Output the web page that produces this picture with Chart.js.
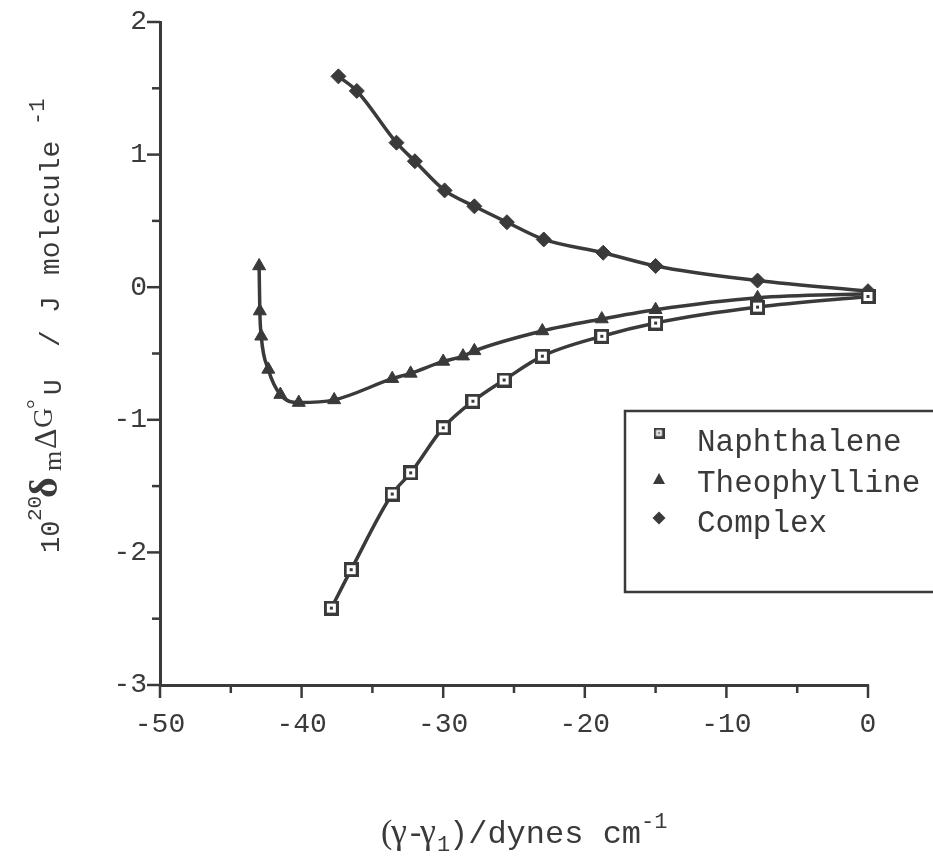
<!DOCTYPE html>
<html>
<head>
<meta charset="utf-8">
<script src="https://cdn.jsdelivr.net/npm/chart.js@4.4.1/dist/chart.umd.min.js"></script>
<style>
  html, body { margin: 0; padding: 0; background: #fff; }
  #wrap { width: 933px; height: 857px; }
</style>
</head>
<body>
<div id="wrap"><canvas id="c" width="933" height="857"></canvas></div>
<script>
// Tick labels
const xTickValues = [-50, -40, -30, -20, -10, 0];
const yTickValues = [-3, -2, -1, 0, 1, 2];

// Naphthalene
const naphX = [-37.9, -36.5, -33.6, -32.3, -30.0, -27.9, -25.7, -23.0, -18.8, -15.0, -7.8, 0.0];
const naphY = [-2.42, -2.13, -1.56, -1.40, -1.06, -0.86, -0.70, -0.52, -0.37, -0.27, -0.15, -0.07];

// Theophylline
const theoX = [-43.0, -42.95, -42.85, -42.35, -41.5, -40.2, -37.7, -33.6, -32.3, -30.0, -28.6, -27.8, -23.0, -18.8, -15.0, -7.8, 0.0];
const theoY = [0.16, -0.18, -0.37, -0.62, -0.81, -0.87, -0.85, -0.69, -0.65, -0.56, -0.52, -0.48, -0.33, -0.24, -0.17, -0.08, -0.05];

// Complex
const cplxX = [-37.4, -36.1, -33.3, -32.0, -29.9, -27.8, -25.5, -22.9, -18.7, -15.0, -7.8, 0.0];
const cplxY = [1.59, 1.48, 1.09, 0.95, 0.73, 0.61, 0.49, 0.36, 0.26, 0.16, 0.05, -0.03];

const seriesNames = ['Naphthalene', 'Theophylline', 'Complex'];

const INK = '#3a3a3a';
const MONO = '"Liberation Mono", "DejaVu Sans Mono", monospace';
const SERIF = '"Liberation Serif", "DejaVu Serif", serif';

// Open square marker with a dot in the middle
function squareMarker(size, lw, dot) {
  const c = document.createElement('canvas');
  c.width = size; c.height = size;
  const g = c.getContext('2d');
  g.fillStyle = '#fff';
  g.fillRect(0, 0, size, size);
  g.strokeStyle = INK;
  g.lineWidth = lw;
  g.strokeRect(lw / 2, lw / 2, size - lw, size - lw);
  g.fillStyle = INK;
  g.fillRect((size - dot) / 2, (size - dot) / 2, dot, dot);
  return c;
}
const sqMark = squareMarker(15, 3, 3);
const sqMarkSmall = squareMarker(11, 2.5, 2);

const toPts = (xs, ys) => xs.map((x, i) => ({ x: x, y: ys[i] }));

const common = {
  showLine: true,
  borderColor: INK,
  borderWidth: 3.5,
  backgroundColor: INK,
  pointBackgroundColor: INK,
  pointBorderColor: INK,
  pointBorderWidth: 1,
  cubicInterpolationMode: 'monotone',
  clip: false
};

// Tick marks: long at labelled values, short in between
const tickMarks = {
  id: 'tickMarks',
  afterDraw(chart) {
    const ctx = chart.ctx;
    const xs = chart.scales.x, ys = chart.scales.y;
    const base = ys.getPixelForValue(-3);
    const left = xs.getPixelForValue(-50);
    ctx.save();
    ctx.strokeStyle = INK;
    ctx.lineWidth = 2.5;
    for (let v = -50; v <= 0; v += 5) {
      const px = xs.getPixelForValue(v);
      const len = (v % 10 === 0) ? 13 : 8;
      ctx.beginPath(); ctx.moveTo(px, base); ctx.lineTo(px, base + len); ctx.stroke();
    }
    for (let v = -3; v <= 2.001; v += 0.5) {
      const py = ys.getPixelForValue(v);
      const len = (Math.abs(v - Math.round(v)) < 1e-6) ? 13 : 8;
      ctx.beginPath(); ctx.moveTo(left, py); ctx.lineTo(left - len, py); ctx.stroke();
    }
    ctx.restore();
  }
};

// Text runs placed at given offsets along the baseline
function drawRuns(ctx, runs) {
  for (const r of runs) {
    ctx.font = r.font;
    ctx.fillText(r.t, r.at, r.dy || 0);
  }
}

const axisTitles = {
  id: 'axisTitles',
  afterDraw(chart) {
    const ctx = chart.ctx;
    ctx.save();
    ctx.fillStyle = INK;
    ctx.textBaseline = 'alphabetic';
    ctx.textAlign = 'left';
    // x title
    ctx.save();
    ctx.translate(0, 843);
    drawRuns(ctx, [
      { t: '(', font: '34px ' + SERIF, at: 381 },
      { t: 'γ', font: '36px ' + SERIF, at: 391 },
      { t: '-', font: '34px ' + SERIF, at: 410 },
      { t: 'γ', font: '36px ' + SERIF, at: 420 },
      { t: '1', font: '22px ' + MONO, at: 437, dy: 8 },
      { t: ')/dynes cm', font: '32px ' + MONO, at: 449 },
      { t: '-1', font: '22px ' + MONO, at: 641, dy: -15 }
    ]);
    ctx.restore();
    // y title, rotated to read upward
    ctx.translate(59, 553);
    ctx.rotate(-Math.PI / 2);
    drawRuns(ctx, [
      { t: '10', font: '27px ' + MONO, at: 0 },
      { t: '20', font: '21px ' + MONO, at: 32, dy: -18 },
      { t: 'δ', font: 'bold 40px ' + SERIF, at: 55, dy: -2 },
      { t: 'm', font: '26px ' + SERIF, at: 82, dy: 2 },
      { t: 'Δ', font: '32px ' + SERIF, at: 104, dy: -3 },
      { t: 'G', font: '28px ' + SERIF, at: 125, dy: -7 },
      { t: '°', font: '24px ' + SERIF, at: 144, dy: -16 },
      { t: 'U', font: '26px ' + MONO, at: 158, dy: 2 },
      { t: '/', font: '28px ' + MONO, at: 206 },
      { t: 'J', font: '28px ' + MONO, at: 240 },
      { t: 'molecule', font: '28px ' + MONO, at: 278 },
      { t: '-1', font: '22px ' + MONO, at: 428, dy: -15 }
    ]);
    ctx.restore();
  }
};

// Boxed key in the lower right
const keyBox = {
  id: 'keyBox',
  afterDraw(chart) {
    const ctx = chart.ctx;
    ctx.save();
    ctx.fillStyle = '#fff';
    ctx.fillRect(625, 411, 330, 181);
    ctx.strokeStyle = INK;
    ctx.lineWidth = 2.5;
    ctx.strokeRect(625, 411, 330, 181);
    ctx.fillStyle = INK;
    const mx = 659;
    const rows = [{ my: 433, ty: 451 }, { my: 479, ty: 492 }, { my: 518, ty: 532 }];
    ctx.drawImage(sqMarkSmall, mx - 5.5, rows[0].my - 5.5);
    ctx.beginPath();
    ctx.moveTo(mx, rows[1].my - 6);
    ctx.lineTo(mx + 6, rows[1].my + 5);
    ctx.lineTo(mx - 6, rows[1].my + 5);
    ctx.closePath(); ctx.fill();
    ctx.beginPath();
    ctx.moveTo(mx, rows[2].my - 6.5);
    ctx.lineTo(mx + 6.5, rows[2].my);
    ctx.lineTo(mx, rows[2].my + 6.5);
    ctx.lineTo(mx - 6.5, rows[2].my);
    ctx.closePath(); ctx.fill();
    ctx.font = '31px ' + MONO;
    ctx.textBaseline = 'alphabetic';
    ctx.textAlign = 'left';
    chart.data.datasets.forEach((ds, i) => {
      ctx.fillText(ds.label, 697, rows[i].ty);
    });
    ctx.restore();
  }
};

const zeroPad = s => { s.paddingTop = 0; s.paddingBottom = 0; s.paddingLeft = 0; s.paddingRight = 0; };

new Chart(document.getElementById('c').getContext('2d'), {
  type: 'scatter',
  data: {
    datasets: [
      Object.assign({}, common, { label: seriesNames[0], data: toPts(naphX, naphY), pointStyle: sqMark, pointRadius: 7.5 }),
      Object.assign({}, common, { label: seriesNames[1], data: toPts(theoX, theoY), pointStyle: 'triangle', pointRadius: 7.5 }),
      Object.assign({}, common, { label: seriesNames[2], data: toPts(cplxX, cplxY), pointStyle: 'rectRot', pointRadius: 7.5 })
    ]
  },
  options: {
    responsive: false,
    animation: false,
    devicePixelRatio: 1,
    layout: { padding: { top: 22, right: 65, left: 0, bottom: 0 } },
    plugins: { legend: { display: false }, tooltip: { enabled: false } },
    scales: {
      x: {
        type: 'linear', min: -50, max: 0,
        afterBuildTicks: s => { s.ticks = xTickValues.map(v => ({ value: v })); },
        afterFit: s => { s.height = 172; zeroPad(s); },
        grid: { display: false, drawTicks: false },
        border: { display: true, color: INK, width: 3 },
        ticks: { font: { family: MONO, size: 28 }, color: INK, padding: 23, maxRotation: 0, autoSkip: false, callback: v => String(v) }
      },
      y: {
        type: 'linear', min: -3, max: 2,
        afterBuildTicks: s => { s.ticks = yTickValues.map(v => ({ value: v })); },
        afterFit: s => { s.width = 160; zeroPad(s); },
        grid: { display: false, drawTicks: false },
        border: { display: true, color: INK, width: 3 },
        ticks: { font: { family: MONO, size: 28 }, color: INK, padding: 13, autoSkip: false, callback: v => String(v) }
      }
    }
  },
  plugins: [tickMarks, axisTitles, keyBox]
});
</script>
</body>
</html>
